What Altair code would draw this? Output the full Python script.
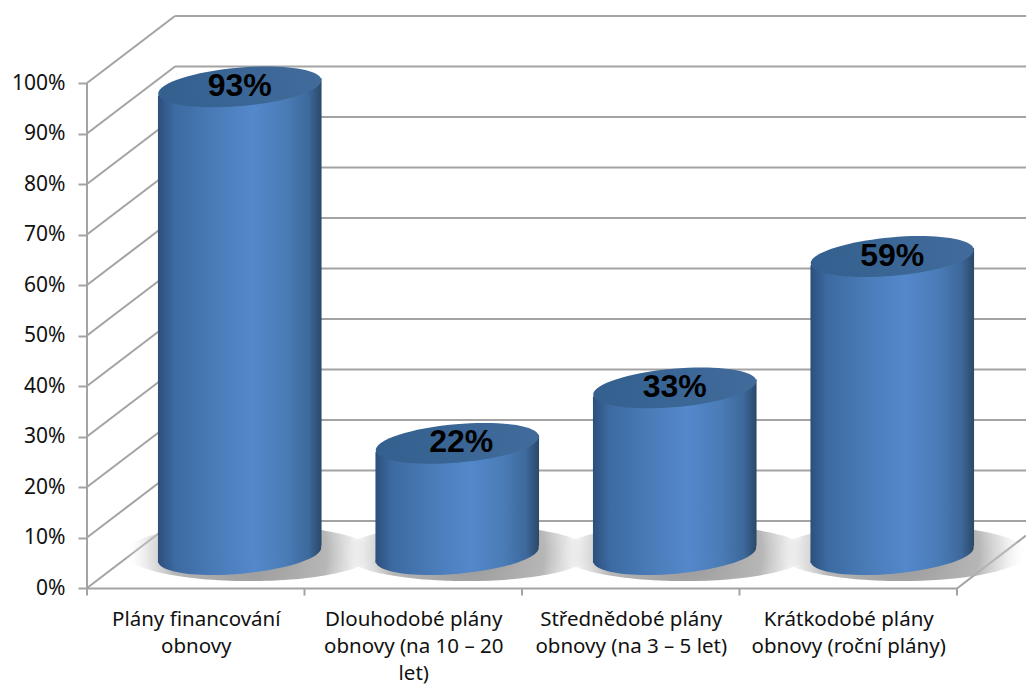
import altair as alt
import pandas as pd

# ---- values ----
categories = ["Plány financování obnovy", "Dlouhodobé plány obnovy (na 10 – 20 let)",
              "Střednědobé plány obnovy (na 3 – 5 let)", "Krátkodobé plány obnovy (roční plány)"]
values = [92.6, 22, 33, 59]
value_labels = ["93%", "22%", "33%", "59%"]
tick_pcts = [0, 10, 20, 30, 40, 50, 60, 70, 80, 90, 100]
cat_lines = [["Plány financování", "obnovy"],
             ["Dlouhodobé plány", "obnovy (na 10 – 20", "let)"],
             ["Střednědobé plány", "obnovy (na 3 – 5 let)"],
             ["Krátkodobé plány", "obnovy (roční plány)"]]

# ---- 3-D geometry in data units ----
PX_X, PX_Y = 217.5, 5.05
W, H = 939, 580
DX, DY = 88 / PX_X, 67 / PX_Y        # depth of the box
HALF_W = 81.8 / PX_X                 # cylinder radius
TILT = 1.7                           # ellipse tilt, %-units
GRID = "#a3a3a3"
FONT = "Noto Sans"

x_s = alt.Scale(domain=[0, W / PX_X], nice=False, zero=False)
y_s = alt.Scale(domain=[0, H / PX_Y], nice=False, zero=False)

x_expr = ("datum.value<1?" + str(cat_lines[0]) + ":datum.value<2?" + str(cat_lines[1]) +
          ":datum.value<3?" + str(cat_lines[2]) + ":" + str(cat_lines[3]))
x_axis = alt.Axis(values=[0.5, 1.5, 2.5, 3.5], domain=False, grid=False, ticks=False, labelExpr=x_expr,
                  labelFont=FONT, labelFontSize=20.5, labelColor="#111111", labelPadding=21,
                  labelLineHeight=27, labelOverlap=False, labelBound=False, labelFlush=False,
                  labelLimit=400, title=None)
y_axis = alt.Axis(values=tick_pcts, domain=False, grid=False, tickSize=9, tickWidth=2, tickColor=GRID,
                  labelExpr="datum.value+'%'", labelFont=FONT, labelFontSize=21, labelColor="#111111",
                  labelPadding=13, labelOverlap=False, title=None)
X = alt.X("x:Q", scale=x_s, axis=x_axis)
Y = alt.Y("y:Q", scale=y_s, axis=y_axis, stack=None)
Y_TOP = alt.Y("top:Q", scale=y_s, axis=y_axis, stack=None)

# walls and floor
n = len(categories)
END = W / PX_X
lines = []
for t in tick_pcts:
    lines.append(dict(x=DX, x2=END, y=t + DY, y2=t + DY))       # back wall
    lines.append(dict(x=0, x2=DX, y=t, y2=t + DY))              # side wall
lines.append(dict(x=0, x2=0, y=0, y2=100))                      # value axis
lines.append(dict(x=0, x2=n, y=-0.1, y2=-0.1))                  # front floor edge
lines.append(dict(x=n, x2=END, y=-0.1, y2=(END - n) / DX * DY))  # right floor edge
for i in range(n + 1):
    lines.append(dict(x=i, x2=i, y=0, y2=-1.5))                 # category ticks
grid = alt.Chart(pd.DataFrame(lines)).mark_rule(color=GRID, strokeWidth=2, clip=False).encode(
    x=X, x2="x2:Q", y=Y, y2="y2:Q")

# cylinders
centers = [i + 0.5 + DX / 2 for i in range(n)]
base = DY / 2
side = alt.Gradient(gradient="linear", x1=0, x2=1, y1=0, y2=0, stops=[
    alt.GradientStop(offset=0, color="#2d4f7c"),
    alt.GradientStop(offset=0.1, color="#3c6aa1"),
    alt.GradientStop(offset=0.35, color="#4a7cb8"),
    alt.GradientStop(offset=0.58, color="#5388cb"),
    alt.GradientStop(offset=0.78, color="#4a7cb6"),
    alt.GradientStop(offset=0.92, color="#3d699c"),
    alt.GradientStop(offset=1, color="#2b4868"),
])
lid = alt.Gradient(gradient="linear", x1=0, x2=1, y1=0, y2=0, stops=[
    alt.GradientStop(offset=0, color="#33608f"),
    alt.GradientStop(offset=1, color="#416b9b"),
])
shadow = alt.Gradient(gradient="radial", x1=0.5, y1=0.5, x2=0.5, y2=0.5, r1=0, r2=0.5, stops=[
    alt.GradientStop(offset=0, color="rgba(150,150,150,1)"),
    alt.GradientStop(offset=0.62, color="rgba(175,175,175,0.9)"),
    alt.GradientStop(offset=0.8, color="rgba(200,200,200,0.5)"),
    alt.GradientStop(offset=1, color="rgba(255,255,255,0)"),
])
ELLIPSE = "M-1,0 A1,0.235 0 1,1 1,0 A1,0.235 0 1,1 -1,0 Z"

df = pd.DataFrame({"x": centers, "v": values, "lab": value_labels})
df["top"] = df.v + base
df["y"] = base
df["cat"] = categories

sh = alt.Chart(df.assign(x=df.x + 0.045, y=base + 0.3)).mark_point(
    filled=True, fill=shadow, opacity=1, shape="M-1,0 A1,0.225 0 1,1 1,0 A1,0.225 0 1,1 -1,0 Z",
    size=(2 * 125) ** 2, strokeWidth=0, clip=False).encode(x=X, y=Y)

bottom = alt.Chart(df).mark_point(filled=True, fill=side, opacity=1, shape=ELLIPSE,
                                  size=(2 * 81.8) ** 2, angle=355, strokeWidth=0).encode(x=X, y=Y)

bodies = []
for c, v in zip(centers, values):
    part = pd.DataFrame({"x": [c - HALF_W, c + HALF_W],
                         "y": [base + v - TILT, base + v + TILT],
                         "y2": [base - TILT, base + TILT]})
    bodies.append(alt.Chart(part).mark_area(color=side).encode(x=X, y=Y, y2="y2:Q"))

top = alt.Chart(df).mark_point(filled=True, fill=lid, opacity=1, shape=ELLIPSE,
                               size=(2 * 81.8) ** 2, angle=355, strokeWidth=0).encode(x=X, y=Y_TOP)

# the 22% label sits a little right of its cylinder's centre in the original
label_nudge = [0, 4 / PX_X, 0, 0]
text_df = df.assign(x=[c + s for c, s in zip(centers, label_nudge)])
text = alt.Chart(text_df).mark_text(font="Liberation Sans", fontWeight="bold", fontSize=32,
                                    color="#000000", baseline="middle", dy=-1).encode(
    x=X, y=Y_TOP, text="lab:N")

chart = alt.layer(grid, sh, bottom, *bodies, top, text).properties(
    width=W, height=H,
    autosize=alt.AutoSizeParams(type="none"),
    padding={"left": 79, "top": 0, "right": 0, "bottom": 100},
).configure_view(stroke=None)

chart.save("out.html", embed_options={"renderer": "svg", "actions": False})
